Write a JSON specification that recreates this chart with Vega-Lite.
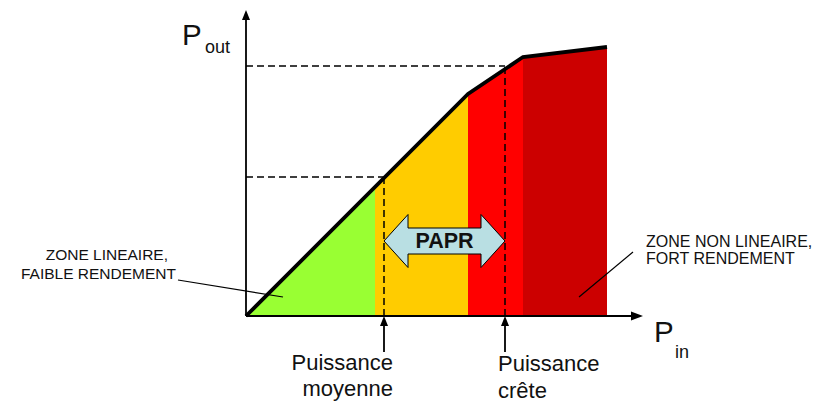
{
  "$schema": "https://vega.github.io/schema/vega-lite/v6.json",
  "width": 817,
  "height": 403,
  "padding": 0,
  "autosize": {"type": "none"},
  "background": "white",
  "config": {"view": {"stroke": null}, "text": {"font": "Liberation Sans", "color": "#111111"}},
  "datasets": {
    "curve": [
      {"pin": 0, "pout": 0},
      {"pin": 222, "pout": 222},
      {"pin": 277, "pout": 259},
      {"pin": 361, "pout": 269}
    ],
    "zones": [
      {"zone": "lineaire", "pin": 0, "pout": 0},
      {"zone": "lineaire", "pin": 129, "pout": 129},
      {"zone": "moyenne", "pin": 129, "pout": 129},
      {"zone": "moyenne", "pin": 222, "pout": 222},
      {"zone": "crete", "pin": 222, "pout": 222},
      {"zone": "crete", "pin": 277, "pout": 259},
      {"zone": "saturation", "pin": 277, "pout": 259},
      {"zone": "saturation", "pin": 361, "pout": 269}
    ],
    "dashed": [
      {"pin": 0, "pout": 139, "pin2": 138, "pout2": 139},
      {"pin": 138, "pout": 0, "pin2": 138, "pout2": 139},
      {"pin": 0, "pout": 250, "pin2": 259, "pout2": 250},
      {"pin": 259, "pout": 0, "pin2": 259, "pout2": 250}
    ],
    "solid": [
      {"pin": 0, "pout": 0, "pin2": 0, "pout2": 300},
      {"pin": 0, "pout": 0, "pin2": 390, "pout2": 0},
      {"pin": 138, "pout": -36, "pin2": 138, "pout2": -4},
      {"pin": 259, "pout": -36, "pin2": 259, "pout2": -4}
    ],
    "leaders": [
      {"pin": -68, "pout": 36, "pin2": 37, "pout2": 19},
      {"pin": 387, "pout": 64, "pin2": 333, "pout2": 19}
    ],
    "upheads": [
      {"pin": 0, "pout": 301},
      {"pin": 138, "pout": -5},
      {"pin": 259, "pout": -5}
    ],
    "rightheads": [{"pin": 391, "pout": 0}],
    "papr": [{"pin": 198.5, "pout": 75, "label": "PAPR"}],
    "bigP": [
      {"pin": -64, "pout": 271, "label": "P"},
      {"pin": 408, "pout": -26, "label": "P"}
    ],
    "subs": [
      {"pin": -41, "pout": 263, "label": "out"},
      {"pin": 429, "pout": -42, "label": "in"}
    ],
    "leftNotes": [
      {"pin": -78, "pout": 56, "label": "ZONE LINEAIRE,"},
      {"pin": -70, "pout": 37, "label": "FAIBLE RENDEMENT"}
    ],
    "rightNotes": [
      {"pin": 400, "pout": 69, "label": "ZONE NON LINEAIRE,"},
      {"pin": 400, "pout": 52, "label": "FORT RENDEMENT"}
    ],
    "moyNotes": [
      {"pin": 147, "pout": -54, "label": "Puissance"},
      {"pin": 147, "pout": -80, "label": "moyenne"}
    ],
    "creteNotes": [
      {"pin": 252, "pout": -55, "label": "Puissance"},
      {"pin": 252, "pout": -82, "label": "crête"}
    ]
  },
  "encoding": {
    "x": {"field": "pin", "type": "quantitative", "scale": {"domain": [-246, 571], "nice": false, "zero": false}, "axis": null},
    "y": {"field": "pout", "type": "quantitative", "scale": {"domain": [-87, 316], "nice": false, "zero": false}, "axis": null}
  },
  "layer": [
    {
      "data": {"name": "zones"},
      "mark": {"type": "area", "opacity": 1, "interpolate": "linear"},
      "encoding": {
        "y": {"field": "pout", "type": "quantitative", "stack": null},
        "y2": {"datum": 0},
        "color": {"field": "zone", "type": "nominal", "legend": null,
          "scale": {"domain": ["lineaire", "moyenne", "crete", "saturation"], "range": ["#99ff33", "#ffcc00", "#ff0000", "#cc0000"]}}
      }
    },
    {
      "data": {"name": "dashed"},
      "mark": {"type": "rule", "color": "black", "strokeWidth": 1.5, "strokeDash": [7, 4]},
      "encoding": {"x2": {"field": "pin2"}, "y2": {"field": "pout2"}}
    },
    {
      "data": {"name": "curve"},
      "mark": {"type": "line", "color": "black", "strokeWidth": 3.8, "strokeJoin": "miter"},
      "encoding": {}
    },
    {
      "data": {"name": "solid"},
      "mark": {"type": "rule", "color": "black", "strokeWidth": 1.8},
      "encoding": {"x2": {"field": "pin2"}, "y2": {"field": "pout2"}}
    },
    {
      "data": {"name": "leaders"},
      "mark": {"type": "rule", "color": "black", "strokeWidth": 1.2},
      "encoding": {"x2": {"field": "pin2"}, "y2": {"field": "pout2"}}
    },
    {
      "data": {"name": "upheads"},
      "mark": {"type": "point", "shape": "M0,-1L-0.8,1L0.8,1Z", "size": 100, "filled": true, "color": "black", "opacity": 1}
    },
    {
      "data": {"name": "rightheads"},
      "mark": {"type": "point", "shape": "M1,0L-1,-0.75L-1,0.75Z", "size": 144, "filled": true, "color": "black", "opacity": 1}
    },
    {
      "data": {"name": "papr"},
      "mark": {"type": "point", "shape": "M-60.5,0L-36.5,-26.5L-36.5,-13L36.5,-13L36.5,-26.5L60.5,0L36.5,26.5L36.5,13L-36.5,13L-36.5,26.5Z", "size": 4, "filled": true, "fill": "#b9dfe3", "stroke": "black", "strokeWidth": 1, "opacity": 1}
    },
    {
      "data": {"name": "papr"},
      "mark": {"type": "text", "fontSize": 21.5, "fontWeight": "bold", "align": "center", "baseline": "middle", "dy": 1},
      "encoding": {"text": {"field": "label"}}
    },
    {
      "data": {"name": "bigP"},
      "mark": {"type": "text", "fontSize": 29.5, "align": "left", "baseline": "alphabetic"},
      "encoding": {"text": {"field": "label"}}
    },
    {
      "data": {"name": "subs"},
      "mark": {"type": "text", "fontSize": 18, "align": "left", "baseline": "alphabetic"},
      "encoding": {"text": {"field": "label"}}
    },
    {
      "data": {"name": "leftNotes"},
      "mark": {"type": "text", "fontSize": 15.5, "align": "right", "baseline": "alphabetic"},
      "encoding": {"text": {"field": "label"}}
    },
    {
      "data": {"name": "rightNotes"},
      "mark": {"type": "text", "fontSize": 16, "align": "left", "baseline": "alphabetic"},
      "encoding": {"text": {"field": "label"}}
    },
    {
      "data": {"name": "moyNotes"},
      "mark": {"type": "text", "fontSize": 22, "align": "right", "baseline": "alphabetic"},
      "encoding": {"text": {"field": "label"}}
    },
    {
      "data": {"name": "creteNotes"},
      "mark": {"type": "text", "fontSize": 22, "align": "left", "baseline": "alphabetic"},
      "encoding": {"text": {"field": "label"}}
    }
  ]
}
